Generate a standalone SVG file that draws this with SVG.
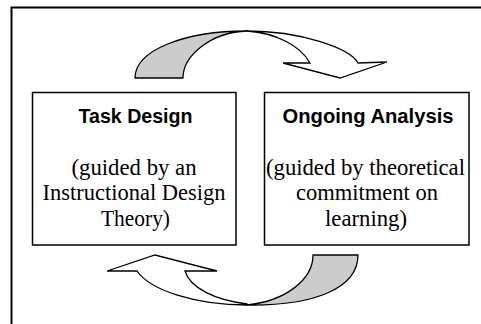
<svg xmlns="http://www.w3.org/2000/svg" width="481" height="324" viewBox="0 0 481 324">
<style>
.box{fill:#fff;stroke:#000;stroke-width:1.5}
.ttl{font-family:"Liberation Sans",Arial,sans-serif;font-weight:bold;font-size:19.5px;fill:#000;text-anchor:middle}
.sub{font-family:"Liberation Serif","Times New Roman",serif;font-size:22.5px;fill:#000;text-anchor:middle}
.gray{fill:#cccccc;stroke:#000;stroke-width:1.3;stroke-linejoin:round}
.white{fill:#fff;stroke:#000;stroke-width:1.3;stroke-linejoin:miter}
</style>
<rect width="481" height="324" fill="#fff"/>
<path d="M11.5,324 V7.5 H481" fill="none" stroke="#000" stroke-width="2"/>
<g id="connectors">
  <g id="arrow-top">
    <path class="gray" d="M135,78 C135,50 185,31 247,31 C212,32 183,55 183,78 Z"/>
    <path class="white" d="M247,31 C300,31 350,48 358,63 L387,62 L340,78 L283,63 L310,63 C300,45 275,33 247,31 Z"/>
  </g>
  <g id="arrow-bottom">
    <path class="gray" d="M313,255 L358,255 C358,288 315,306 247,305 C285,301 313,280 313,255 Z"/>
    <path class="white" d="M247,305 C195,305 150,290 137,271 L107,271 L155,255 L217,271 L185,271 C190,288 215,300 247,304 Z"/>
  </g>
</g>
<g id="node-task-design">
  <rect class="box" x="32.5" y="92.5" width="203.5" height="152.5"/>
  <text class="ttl" x="135.5" y="122.5" textLength="114" lengthAdjust="spacingAndGlyphs">Task Design</text>
  <text class="sub" x="134" y="175" textLength="125" lengthAdjust="spacingAndGlyphs">(guided by an</text>
  <text class="sub" x="134" y="200" textLength="183" lengthAdjust="spacingAndGlyphs">Instructional Design</text>
  <text class="sub" x="135.5" y="226" textLength="69" lengthAdjust="spacingAndGlyphs">Theory)</text>
</g>
<g id="node-ongoing-analysis">
  <rect class="box" x="264.5" y="92.5" width="204.5" height="152.5"/>
  <text class="ttl" x="368" y="122.5" textLength="171" lengthAdjust="spacingAndGlyphs">Ongoing Analysis</text>
  <text class="sub" x="365.5" y="175" textLength="199" lengthAdjust="spacingAndGlyphs">(guided by theoretical</text>
  <text class="sub" x="367" y="200" textLength="142" lengthAdjust="spacingAndGlyphs">commitment on</text>
  <text class="sub" x="366" y="226" textLength="82" lengthAdjust="spacingAndGlyphs">learning)</text>
</g>
</svg>
